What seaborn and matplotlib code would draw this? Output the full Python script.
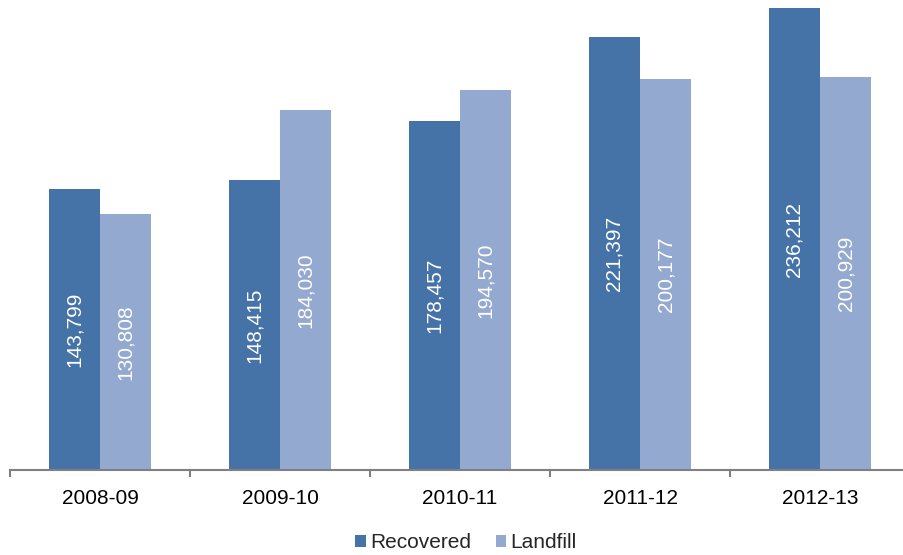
import matplotlib
matplotlib.use("Agg")
import matplotlib.pyplot as plt
import seaborn as sns
import pandas as pd
from matplotlib.patches import Patch

years = ["2008-09", "2009-10", "2010-11", "2011-12", "2012-13"]
recovered = [143799, 148415, 178457, 221397, 236212]
landfill = [130808, 184030, 194570, 200177, 200929]
series = ["Recovered", "Landfill"]
colors = ["#4572A7", "#93A9CF"]

df = pd.DataFrame({
    "year": years * 2,
    "value": recovered + landfill,
    "series": [series[0]] * len(years) + [series[1]] * len(years),
})

sns.set_style("white")
plt.rcParams["font.family"] = ["Liberation Sans", "DejaVu Sans"]

fig = plt.figure(figsize=(9.04, 5.55), dpi=100)
ax = fig.add_axes([10 / 904, 85 / 555, 900 / 904, 469 / 555])

sns.barplot(data=df, x="year", y="value", hue="series", palette=colors,
            width=0.567, linewidth=0, saturation=1, ax=ax, legend=False)

for cont in ax.containers:
    ax.bar_label(cont, labels=[f"{v:,.0f}" for v in cont.datavalues],
                 label_type="center", rotation=90, color="white", fontsize=15)

ax.set_ylim(0, 240000)
ax.set_xlim(-0.5, 4.5)
ax.set_xlabel("")
ax.set_ylabel("")
ax.set_yticks([])
for s in ["top", "right", "left"]:
    ax.spines[s].set_visible(False)
ax.spines["bottom"].set_color("#808080")
ax.spines["bottom"].set_linewidth(1.5)
ax.tick_params(axis="x", which="major", bottom=True, length=0, labelsize=15, pad=14, colors="black")
ax.set_xticks([i - 0.5 for i in range(len(years) + 1)], minor=True)
ax.tick_params(axis="x", which="minor", bottom=True, length=5, width=1.5, color="#808080")

handles = [Patch(facecolor=c, edgecolor="none") for c in colors]
fig.legend(handles, series, loc="center", bbox_to_anchor=(466 / 904, 1 - 543 / 555),
           ncol=2, frameon=False, fontsize=15, handlelength=0.5, handleheight=0.5,
           handletextpad=0.2, columnspacing=1.2)

fig.savefig("out.png", dpi=100)
